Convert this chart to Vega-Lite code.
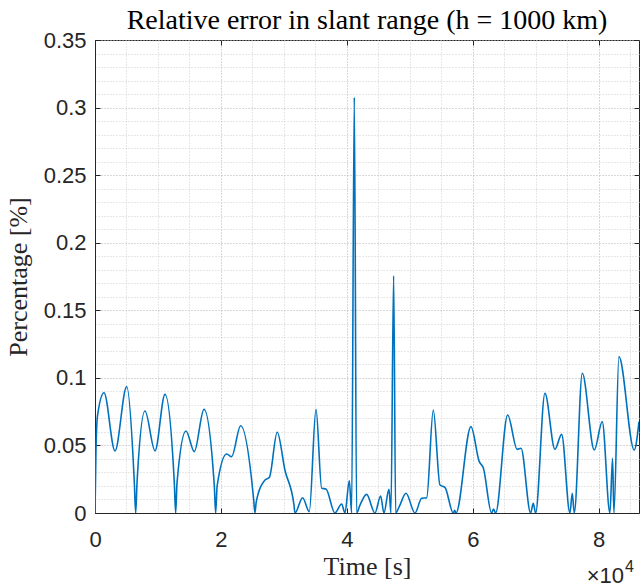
{
  "$schema": "https://vega.github.io/schema/vega-lite/v6.json",
  "width": 544,
  "height": 473,
  "autosize": {"type": "none"},
  "padding": {"left": 95, "top": 40, "right": 2, "bottom": 74},
  "background": "white",
  "title": {
    "text": "Relative error in slant range (h = 1000 km)",
    "font": "Liberation Serif",
    "fontSize": 28,
    "fontWeight": "normal",
    "color": "#000000",
    "anchor": "middle",
    "offset": -6
  },
  "config": {
    "view": {"stroke": "#262626", "strokeWidth": 1},
    "axis": {
      "domainColor": "#262626",
      "tickColor": "#262626",
      "labelColor": "#262626",
      "labelFont": "Liberation Sans",
      "labelFontSize": 22,
      "titleFont": "Liberation Serif",
      "titleFontSize": 26,
      "titleFontWeight": "normal",
      "titleColor": "#262626",
      "labelOverlap": false,
      "labelBound": false,
      "labelFlush": false
    }
  },
  "datasets": {
    "err": [
      {"t": 0, "v": 0},
      {"t": 150, "v": 0.045},
      {"t": 400, "v": 0.072},
      {"t": 1430, "v": 0.089},
      {"t": 3176, "v": 0.046},
      {"t": 5030, "v": 0.0935},
      {"t": 6250, "v": 0.022},
      {"t": 6460, "v": 0},
      {"t": 6670, "v": 0.022},
      {"t": 7940, "v": 0.0755},
      {"t": 9530, "v": 0.046},
      {"t": 11116, "v": 0.0878},
      {"t": 12600, "v": 0.022},
      {"t": 12810, "v": 0},
      {"t": 13020, "v": 0.022},
      {"t": 14450, "v": 0.0607},
      {"t": 15770, "v": 0.0454},
      {"t": 17310, "v": 0.0767},
      {"t": 18950, "v": 0.02},
      {"t": 19160, "v": 0},
      {"t": 19400, "v": 0.02},
      {"t": 20910, "v": 0.0437},
      {"t": 21700, "v": 0.0417},
      {"t": 23130, "v": 0.0646},
      {"t": 25200, "v": 0.01},
      {"t": 25400, "v": 0},
      {"t": 25600, "v": 0.008},
      {"t": 27000, "v": 0.0244},
      {"t": 27700, "v": 0.0264},
      {"t": 28940, "v": 0.0597},
      {"t": 30160, "v": 0.0318},
      {"t": 31600, "v": 0.006},
      {"t": 31760, "v": 0},
      {"t": 32980, "v": 0.0113},
      {"t": 34030, "v": 0.001},
      {"t": 35100, "v": 0.0767},
      {"t": 36000, "v": 0.0183},
      {"t": 36680, "v": 0.0178},
      {"t": 38110, "v": 0},
      {"t": 39170, "v": 0.0067},
      {"t": 39700, "v": 0},
      {"t": 40390, "v": 0.0239},
      {"t": 40760, "v": 0},
      {"t": 41180, "v": 0.3076},
      {"t": 41550, "v": 0},
      {"t": 42100, "v": 0.006},
      {"t": 43140, "v": 0.0138},
      {"t": 44460, "v": 0},
      {"t": 45370, "v": 0.0126},
      {"t": 45890, "v": 0},
      {"t": 46690, "v": 0.0175},
      {"t": 47000, "v": 0},
      {"t": 47430, "v": 0.1756},
      {"t": 47750, "v": 0},
      {"t": 48430, "v": 0.0059},
      {"t": 49390, "v": 0.0146},
      {"t": 50820, "v": 0},
      {"t": 51880, "v": 0.0109},
      {"t": 52680, "v": 0.0113},
      {"t": 53730, "v": 0.0762},
      {"t": 54790, "v": 0.0207},
      {"t": 55580, "v": 0.019},
      {"t": 56900, "v": 0},
      {"t": 57120, "v": 0.002},
      {"t": 57330, "v": 0},
      {"t": 59710, "v": 0.0639},
      {"t": 61030, "v": 0.038},
      {"t": 61670, "v": 0.0335},
      {"t": 62990, "v": 0},
      {"t": 63300, "v": 0.003},
      {"t": 63630, "v": 0},
      {"t": 65540, "v": 0.0725},
      {"t": 67050, "v": 0.0471},
      {"t": 67660, "v": 0.0479},
      {"t": 69190, "v": 0},
      {"t": 69600, "v": 0.0072},
      {"t": 69980, "v": 0},
      {"t": 71460, "v": 0.0886},
      {"t": 73050, "v": 0.0471},
      {"t": 74110, "v": 0.0582},
      {"t": 75430, "v": 0},
      {"t": 75800, "v": 0.0146},
      {"t": 76120, "v": 0},
      {"t": 77390, "v": 0.1034},
      {"t": 79300, "v": 0.0466},
      {"t": 80560, "v": 0.0676},
      {"t": 81780, "v": 0},
      {"t": 82200, "v": 0.0405},
      {"t": 82420, "v": 0},
      {"t": 83210, "v": 0.1157},
      {"t": 85640, "v": 0.0466},
      {"t": 86400, "v": 0.0676}
    ],
    "one": [{}]
  },
  "data": {"name": "err"},
  "layer": [
    {
      "mark": {"type": "line", "color": "#0072BD", "strokeWidth": 1.6, "interpolate": "monotone", "clip": true},
      "encoding": {
        "x": {
          "field": "t", "type": "quantitative",
          "scale": {"domain": [0, 86400], "nice": false, "zero": false},
          "axis": {
            "orient": "bottom",
            "values": [0, 5000, 10000, 15000, 20000, 25000, 30000, 35000, 40000, 45000, 50000, 55000, 60000, 65000, 70000, 75000, 80000, 85000],
            "labelExpr": "datum.value % 20000 == 0 ? format(datum.value / 10000, 'd') : ''",
            "tickSize": -5,
            "tickOpacity": {"condition": {"test": "datum.value % 20000 == 0", "value": 1}, "value": 0},
            "labelPadding": 21,
            "grid": true,
            "gridDash": [1, 2],
            "gridColor": {"condition": {"test": "datum.value % 20000 == 0", "value": "#b0b0b0"}, "value": "#cfcfcf"},
            "title": "Time [s]",
            "titlePadding": 3
          }
        },
        "y": {
          "field": "v", "type": "quantitative",
          "scale": {"domain": [0, 0.35], "nice": false, "zero": false},
          "axis": {
            "orient": "left",
            "values": [0, 0.01, 0.02, 0.03, 0.04, 0.05, 0.06, 0.07, 0.08, 0.09, 0.1, 0.11, 0.12, 0.13, 0.14, 0.15, 0.16, 0.17, 0.18, 0.19, 0.2, 0.21, 0.22, 0.23, 0.24, 0.25, 0.26, 0.27, 0.28, 0.29, 0.3, 0.31, 0.32, 0.33, 0.34, 0.35],
            "labelExpr": "round(datum.value * 100) % 5 == 0 ? format(datum.value, '~g') : ''",
            "tickSize": -5,
            "tickOpacity": {"condition": {"test": "round(datum.value * 100) % 5 == 0", "value": 1}, "value": 0},
            "labelPadding": 14,
            "grid": true,
            "gridDash": [1, 2],
            "gridColor": {"condition": {"test": "round(datum.value * 100) % 5 == 0", "value": "#b0b0b0"}, "value": "#cfcfcf"},
            "title": "Percentage [%]",
            "titlePadding": 12
          }
        }
      }
    },
    {
      "mark": {"type": "line", "opacity": 0},
      "encoding": {
        "x": {
          "field": "t", "type": "quantitative",
          "scale": {"domain": [0, 86400], "nice": false, "zero": false},
          "axis": {"orient": "top", "values": [0, 20000, 40000, 60000, 80000], "labels": false, "grid": false, "tickSize": -5, "domain": false, "title": null}
        },
        "y": {
          "field": "v", "type": "quantitative",
          "scale": {"domain": [0, 0.35], "nice": false, "zero": false},
          "axis": {"orient": "right", "values": [0, 0.05, 0.1, 0.15, 0.2, 0.25, 0.3, 0.35], "labels": false, "grid": false, "tickSize": -5, "domain": false, "title": null}
        }
      }
    },
    {
      "data": {"name": "one"},
      "mark": {"type": "text", "align": "right", "baseline": "alphabetic", "font": "Liberation Sans", "fontSize": 22, "color": "#262626", "dx": -15},
      "encoding": {
        "x": {"datum": 86400, "type": "quantitative", "scale": {"domain": [0, 86400], "nice": false, "zero": false}, "axis": null},
        "y": {"datum": -0.0518, "type": "quantitative", "scale": {"domain": [0, 0.35], "nice": false, "zero": false}, "axis": null},
        "text": {"value": "×10"}
      }
    },
    {
      "data": {"name": "one"},
      "mark": {"type": "text", "align": "left", "baseline": "alphabetic", "font": "Liberation Sans", "fontSize": 16, "color": "#262626", "dx": -14, "dy": -11},
      "encoding": {
        "x": {"datum": 86400, "type": "quantitative", "scale": {"domain": [0, 86400], "nice": false, "zero": false}, "axis": null},
        "y": {"datum": -0.0518, "type": "quantitative", "scale": {"domain": [0, 0.35], "nice": false, "zero": false}, "axis": null},
        "text": {"value": "4"}
      }
    }
  ],
  "resolve": {"axis": {"x": "independent", "y": "independent"}}
}
